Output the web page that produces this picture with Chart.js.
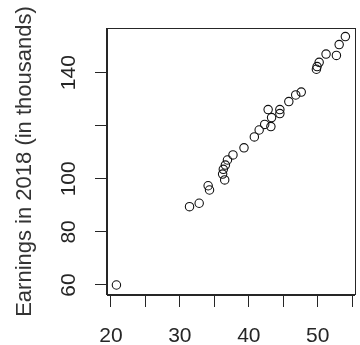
<!DOCTYPE html>
<html>
<head>
<meta charset="utf-8">
<script src="https://cdn.jsdelivr.net/npm/chart.js@4/dist/chart.umd.min.js"></script>
<style>
  html, body { margin: 0; padding: 0; background: #ffffff; }
  #wrap { width: 360px; height: 345px; }
</style>
</head>
<body>
<div id="wrap"><canvas id="c" width="360" height="345"></canvas></div>
<script>
// ---- data ----
const ages = [20.8, 31.4, 32.8, 34.1, 34.3, 36.2, 36.5, 36.3, 36.6, 36.9, 37.7, 39.3, 40.8, 41.5, 42.3, 43.2, 42.8, 43.3, 44.5, 44.5, 45.8, 46.8, 47.6, 49.8, 49.9, 50.2, 51.2, 52.7, 53.1, 54.0];
const earnings2018 = [60.0, 89.5, 90.8, 97.4, 95.8, 101.8, 99.6, 103.6, 105.2, 107.1, 109.0, 111.7, 115.8, 118.4, 120.5, 119.7, 126.1, 123.1, 126.1, 124.6, 129.1, 131.6, 132.7, 141.3, 142.3, 143.9, 147.0, 146.5, 150.6, 153.6];

const xTickValues = [20, 25, 30, 35, 40, 45, 50, 55];
const xTickLabels = ['20', '', '30', '', '40', '', '50', ''];
const yTickValues = [60, 80, 100, 120, 140];
const yTickLabels = ['60', '80', '100', '', '140'];
const yTitle = 'Earnings in 2018 (in thousands)';

const points = ages.map((a, i) => ({ x: a, y: earnings2018[i] }));

const FONT = '"Liberation Sans", Arial, sans-serif';
const INK = '#262626';

const rLabels = {
  id: 'rLabels',
  afterDraw(chart) {
    const ctx = chart.ctx;
    const ca = chart.chartArea;
    const xs = chart.scales.x, ys = chart.scales.y;
    ctx.save();
    // plot box
    ctx.strokeStyle = INK;
    ctx.lineWidth = 1;
    ctx.strokeRect(Math.round(ca.left) - 0.5, Math.round(ca.top) + 0.5,
                   Math.round(ca.right - ca.left) + 1, Math.round(ca.bottom - ca.top) - 1);
    // x tick labels
    ctx.fillStyle = INK;
    ctx.font = '21px ' + FONT;
    ctx.textAlign = 'center';
    ctx.textBaseline = 'alphabetic';
    xTickValues.forEach((v, i) => {
      if (!xTickLabels[i]) return;
      ctx.fillText(xTickLabels[i], xs.getPixelForValue(v), ca.bottom + 47);
    });
    // y tick labels (rotated, R style)
    yTickValues.forEach((v, i) => {
      if (!yTickLabels[i]) return;
      ctx.save();
      ctx.translate(ca.left - 32, ys.getPixelForValue(v));
      ctx.rotate(-Math.PI / 2);
      ctx.fillText(yTickLabels[i], 0, 0);
      ctx.restore();
    });
    // y axis title
    ctx.save();
    ctx.font = '22px ' + FONT;
    ctx.fillStyle = '#333333';
    ctx.translate(ca.left - 76, (ca.top + ca.bottom) / 2);
    ctx.rotate(-Math.PI / 2);
    ctx.fillText(yTitle, 0, 0);
    ctx.restore();
    ctx.restore();
  }
};

new Chart(document.getElementById('c'), {
  type: 'scatter',
  data: {
    datasets: [{
      data: points,
      pointStyle: 'circle',
      pointRadius: 4.2,
      pointHoverRadius: 4.2,
      borderWidth: 1.1,
      borderColor: '#111111',
      backgroundColor: 'rgba(0,0,0,0)'
    }]
  },
  options: {
    responsive: false,
    animation: false,
    events: [],
    layout: { padding: { left: 107, top: 28, right: 0, bottom: 50 } },
    plugins: { legend: { display: false }, tooltip: { enabled: false }, title: { display: false } },
    scales: {
      x: {
        type: 'linear',
        min: 19.432,
        max: 55.354,
        afterBuildTicks: s => { s.ticks = xTickValues.map(v => ({ value: v })); },
        afterFit: s => { s.height = 0; },
        ticks: { display: false },
        grid: { drawOnChartArea: false, drawTicks: true, tickLength: 12, color: INK, lineWidth: 1 },
        border: { display: true, color: INK, width: 1 }
      },
      y: {
        type: 'linear',
        min: 56.23,
        max: 156.84,
        afterBuildTicks: s => { s.ticks = yTickValues.map(v => ({ value: v })); },
        afterFit: s => { s.width = 0; },
        ticks: { display: false },
        grid: { drawOnChartArea: false, drawTicks: true, tickLength: 12, color: INK, lineWidth: 1 },
        border: { display: true, color: INK, width: 1 }
      }
    }
  },
  plugins: [rLabels]
});
</script>
</body>
</html>
